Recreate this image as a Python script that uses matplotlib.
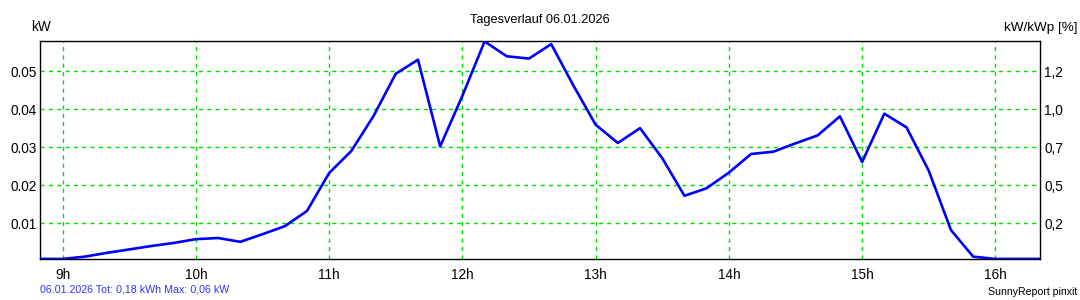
import matplotlib.pyplot as plt
import numpy as np

# 10-minute samples, time in hours
times = ['08:50', '09:00', '09:10', '09:20', '09:30', '09:40', '09:50', '10:00',
         '10:10', '10:20', '10:30', '10:40', '10:50', '11:00', '11:10', '11:20',
         '11:30', '11:40', '11:50', '12:00', '12:10', '12:20', '12:30', '12:40',
         '12:50', '13:00', '13:10', '13:20', '13:30', '13:40', '13:50', '14:00',
         '14:10', '14:20', '14:30', '14:40', '14:50', '15:00', '15:10', '15:20',
         '15:30', '15:40', '15:50', '16:00', '16:10', '16:20']
power_kw = [0.0006, 0.0006, 0.0012, 0.0022, 0.0031, 0.0040, 0.0048, 0.0058,
            0.0061, 0.0051, 0.0071, 0.0092, 0.0132, 0.0232, 0.0290, 0.0382,
            0.0493, 0.0530, 0.0302, 0.0435, 0.0578, 0.0539, 0.0533, 0.0571,
            0.0462, 0.0359, 0.0311, 0.0350, 0.0271, 0.0172, 0.0192, 0.0233,
            0.0282, 0.0288, 0.0310, 0.0331, 0.0381, 0.0261, 0.0388, 0.0352,
            0.0238, 0.0082, 0.0012, 0.0006, 0.0006, 0.0006]

hour_ticks = [9, 10, 11, 12, 13, 14, 15, 16]
hour_labels = ['9h', '10h', '11h', '12h', '13h', '14h', '15h', '16h']
kw_ticks = [0.01, 0.02, 0.03, 0.04, 0.05]
kw_labels = ['0.01', '0.02', '0.03', '0.04', '0.05']
pct_labels = ['0,2', '0,5', '0,7', '1,0', '1,2']

hours = np.array([int(t[:2]) + int(t[3:]) / 60 for t in times])

plt.rcParams['font.family'] = ['Liberation Sans', 'DejaVu Sans']

fig = plt.figure(figsize=(10.8, 3.0), dpi=100)
ax = fig.add_axes([40 / 1080, (300 - 259.3) / 300, 1000 / 1080, (259.3 - 40.7) / 300])

ax.plot(hours, power_kw, color='#0000ff', lw=1.9, zorder=3)

ax.set_xlim(8.83, 16.335)
ax.set_ylim(0.0005, 0.058)

ax.set_xticks(hour_ticks)
ax.set_xticklabels(hour_labels, fontsize=9.8)
ax.set_yticks(kw_ticks)
ax.set_yticklabels(kw_labels, fontsize=9.8)
ax.tick_params(length=0, pad=2.2)
ax.tick_params(axis='x', pad=6)

ax.grid(True, color='#00e000', linestyle=(0, (3, 3)), lw=1.0, zorder=1)

for s in ax.spines.values():
    s.set_color('black')
    s.set_linewidth(1.0)

# right axis labels (kW/kWp in %)
ax2 = ax.twinx()
ax2.set_ylim(ax.get_ylim())
ax2.set_yticks(kw_ticks)
ax2.set_yticklabels(pct_labels, fontsize=9.8)
ax2.tick_params(length=0, pad=3)
for s in ax2.spines.values():
    s.set_visible(False)

fig.text(540 / 1080, 1 - 20 / 300, 'Tagesverlauf 06.01.2026', ha='center', va='center', fontsize=9.2)
fig.text(31 / 1080, 1 - 27 / 300, 'kW', ha='left', va='center', fontsize=9.8)
fig.text(1077 / 1080, 1 - 28 / 300, 'kW/kWp [%]', ha='right', va='center', fontsize=9.7)
fig.text(40 / 1080, 1 - 289 / 300, '06.01.2026 Tot: 0,18 kWh Max: 0,06 kW', ha='left', va='center',
         fontsize=7.7, color='#3030ff')
fig.text(1077 / 1080, 1 - 292 / 300, 'SunnyReport pinxit', ha='right', va='center', fontsize=7.6)

fig.savefig('out.png', dpi=100)
